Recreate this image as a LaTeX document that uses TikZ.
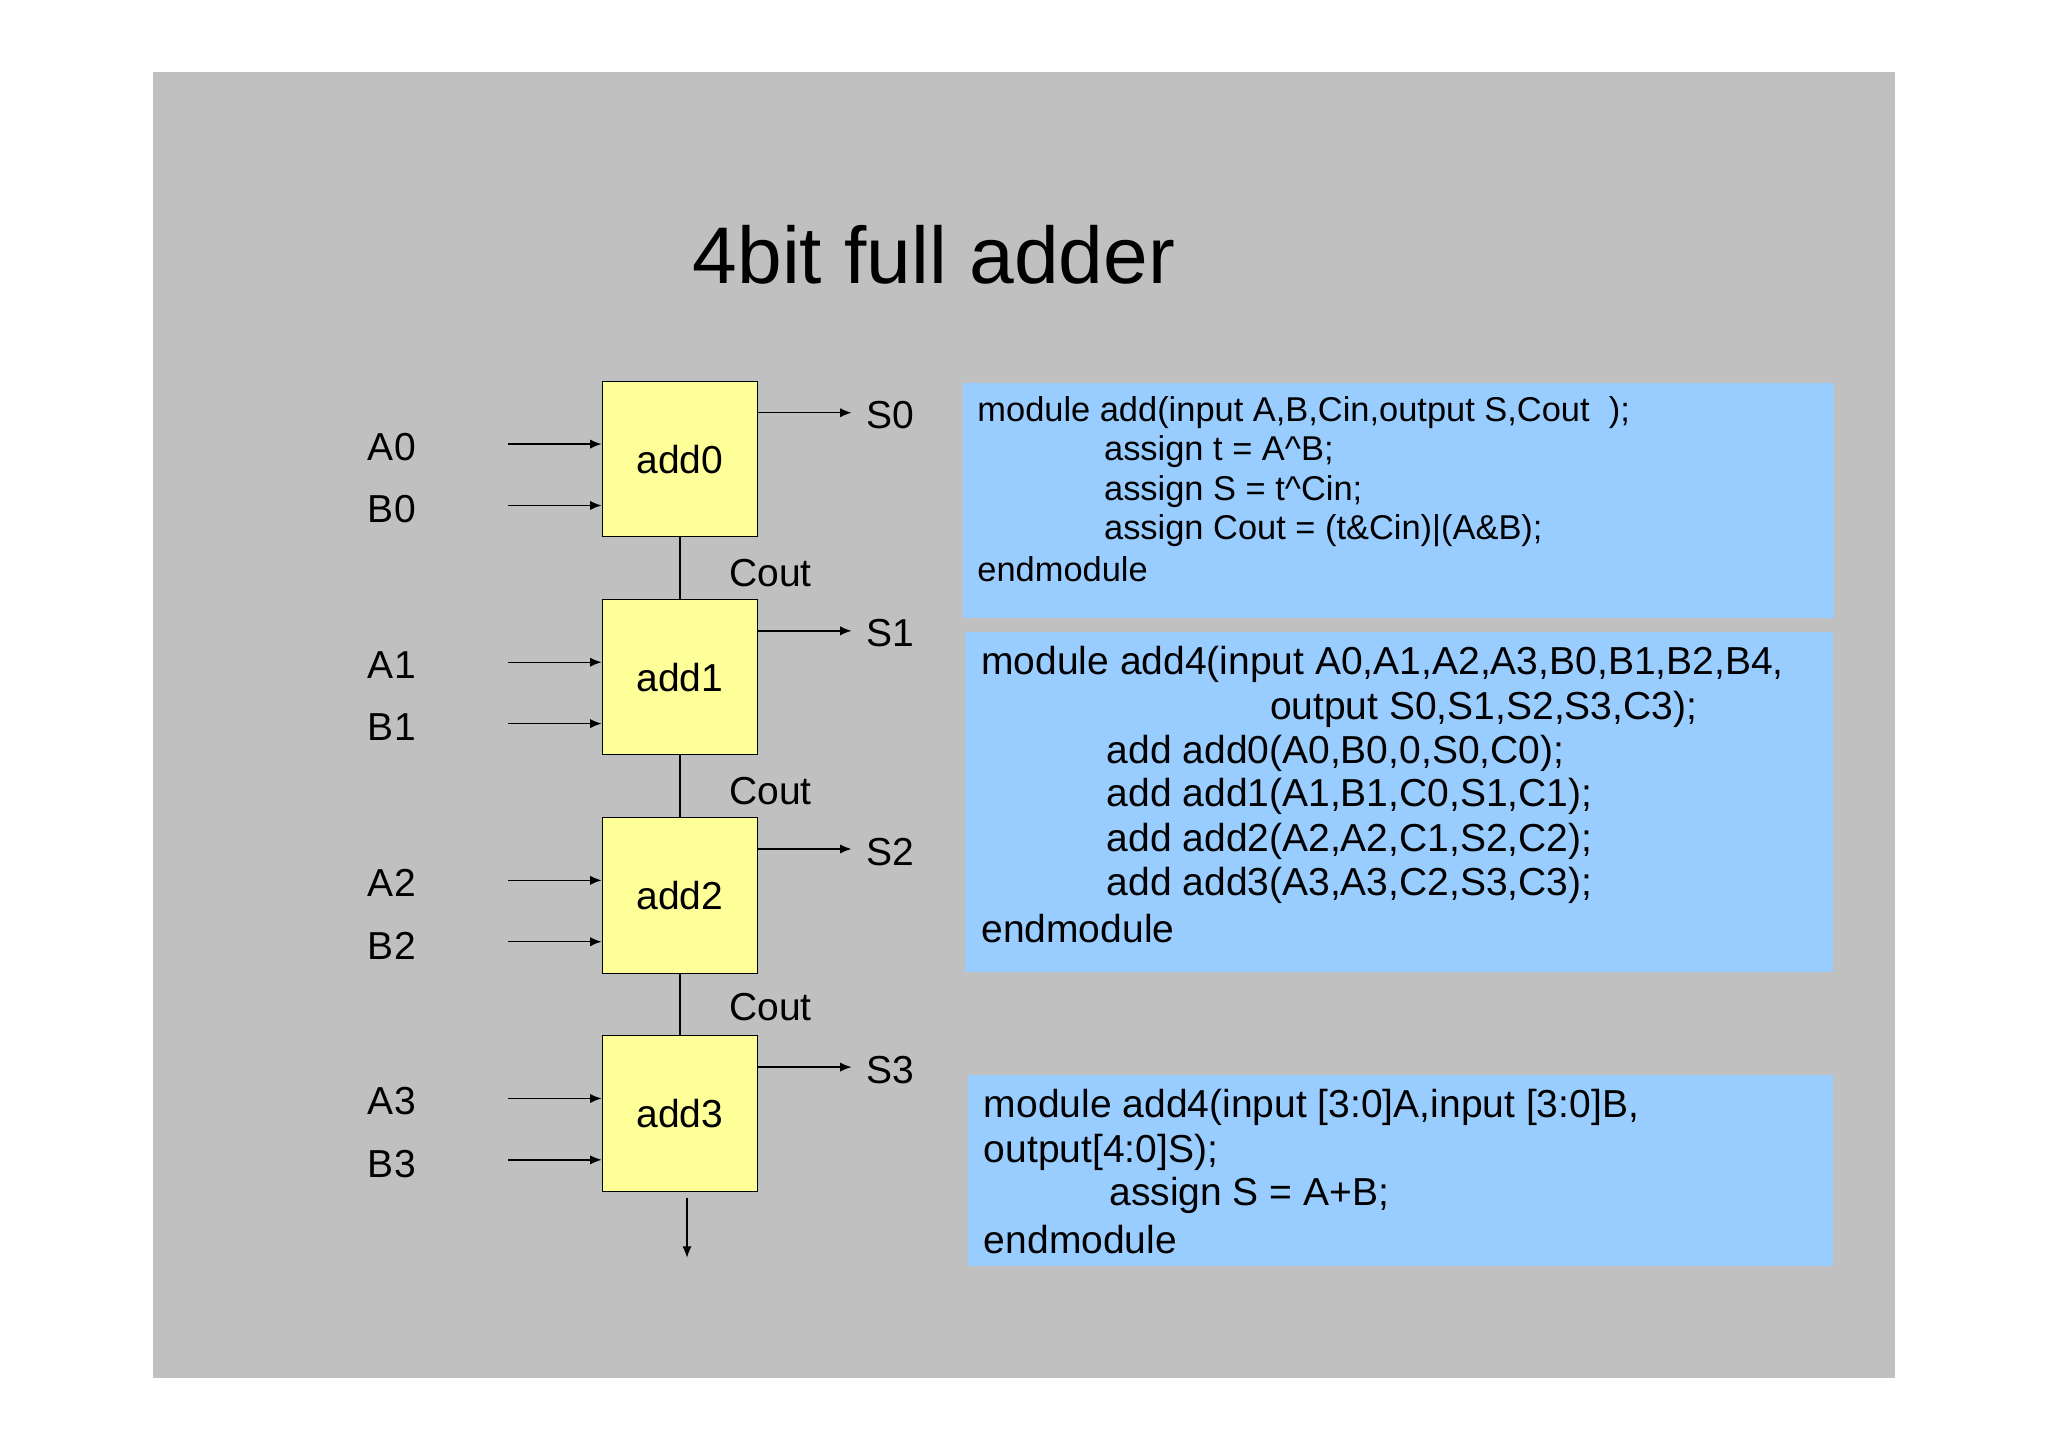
\documentclass[tikz,border=0pt]{standalone}
\usepackage{fontspec}
\setmainfont{Liberation Sans}
\usetikzlibrary{arrows.meta}
\definecolor{bg}{HTML}{C0C0C0}
\definecolor{yel}{HTML}{FFFF99}
\definecolor{blu}{HTML}{99CCFF}
\begin{document}
\begin{tikzpicture}[x=0.02cm,y=-0.02cm,
  adder/.style={draw=black,fill=yel,minimum width=119*0.02cm,minimum height=119*0.02cm,font=\fontsize{17}{20}\selectfont,inner sep=0},
  lbl/.style={font=\fontsize{17}{20}\selectfont,inner sep=0},
  code1/.style={anchor=west,font=\fontsize{15}{18}\selectfont,inner sep=0},
  code2/.style={anchor=west,font=\fontsize{17}{20}\selectfont,inner sep=0},
  arr/.style={-{Latex[length=5pt,width=4pt]},line width=0.6pt},
  ln/.style={line width=0.6pt}]
\useasboundingbox (0,0) rectangle (1568,1108);
\fill[white] (0,0) rectangle (1568,1108);
\fill[bg] (117,55) rectangle (1451,1055);
\node[font=\fontsize{35}{40}\selectfont] (title) at (715,195) {4bit full adder};
\foreach \i/\y in {0/292,1/459,2/626,3/793}{
  \node[adder] (add\i) at (520.5,\y+59.5) {add\i};
  \coordinate (ai\i) at (389,\y+48);
  \coordinate (bi\i) at (389,\y+95);
  \coordinate (so\i) at (652,\y+24);
  \draw[arr] (ai\i) -- (ai\i -| add\i.west);
  \draw[arr] (bi\i) -- (bi\i -| add\i.west);
  \draw[arr] (so\i -| add\i.east) -- (so\i);
  \node[lbl] (A\i) at (300,\y+50) {A\i};
  \node[lbl] (B\i) at (300,\y+98) {B\i};
  \node[lbl] (S\i) at (682,\y+26) {S\i};
}
\foreach \a/\b/\y in {0/1/439,1/2/606,2/3/771}{
  \draw[ln] (add\a.south) -- (add\b.north);
  \node[lbl] (c\a) at (590,\y) {Cout};
}
\coordinate (ct) at (526,917);
\coordinate (cb) at (526,963);
\draw[arr] (ct) -- (cb);
% code boxes
\fill[blu] (737,293) rectangle (1404,473);
\fill[blu] (739,484) rectangle (1403,744);
\fill[blu] (741,823) rectangle (1403,969);
\node[code1] at (748,316) {module add(input A,B,Cin,output S,Cout\ \ );};
\node[code1] at (845,346) {assign t = A\^{}B;};
\node[code1] at (845,376) {assign S = t\^{}Cin;};
\node[code1] at (845,406) {assign Cout = (t\&Cin)|(A\&B);};
\node[code1] at (748,436) {endmodule};
\node[code2] at (751,509) {module add4(input A0,A1,A2,A3,B0,B1,B2,B4,};
\node[code2] at (972,543) {output S0,S1,S2,S3,C3);};
\node[code2] at (847,577) {add add0(A0,B0,0,S0,C0);};
\node[code2] at (847,610) {add add1(A1,B1,C0,S1,C1);};
\node[code2] at (847,644) {add add2(A2,A2,C1,S2,C2);};
\node[code2] at (847,678) {add add3(A3,A3,C2,S3,C3);};
\node[code2] at (751,711) {endmodule};
\node[code2] at (753,848) {module add4(input [3:0]A,input [3:0]B,};
\node[code2] at (753,882) {output[4:0]S);};
\node[code2] at (849,915) {assign S = A+B;};
\node[code2] at (753,949) {endmodule};
\end{tikzpicture}
\end{document}
